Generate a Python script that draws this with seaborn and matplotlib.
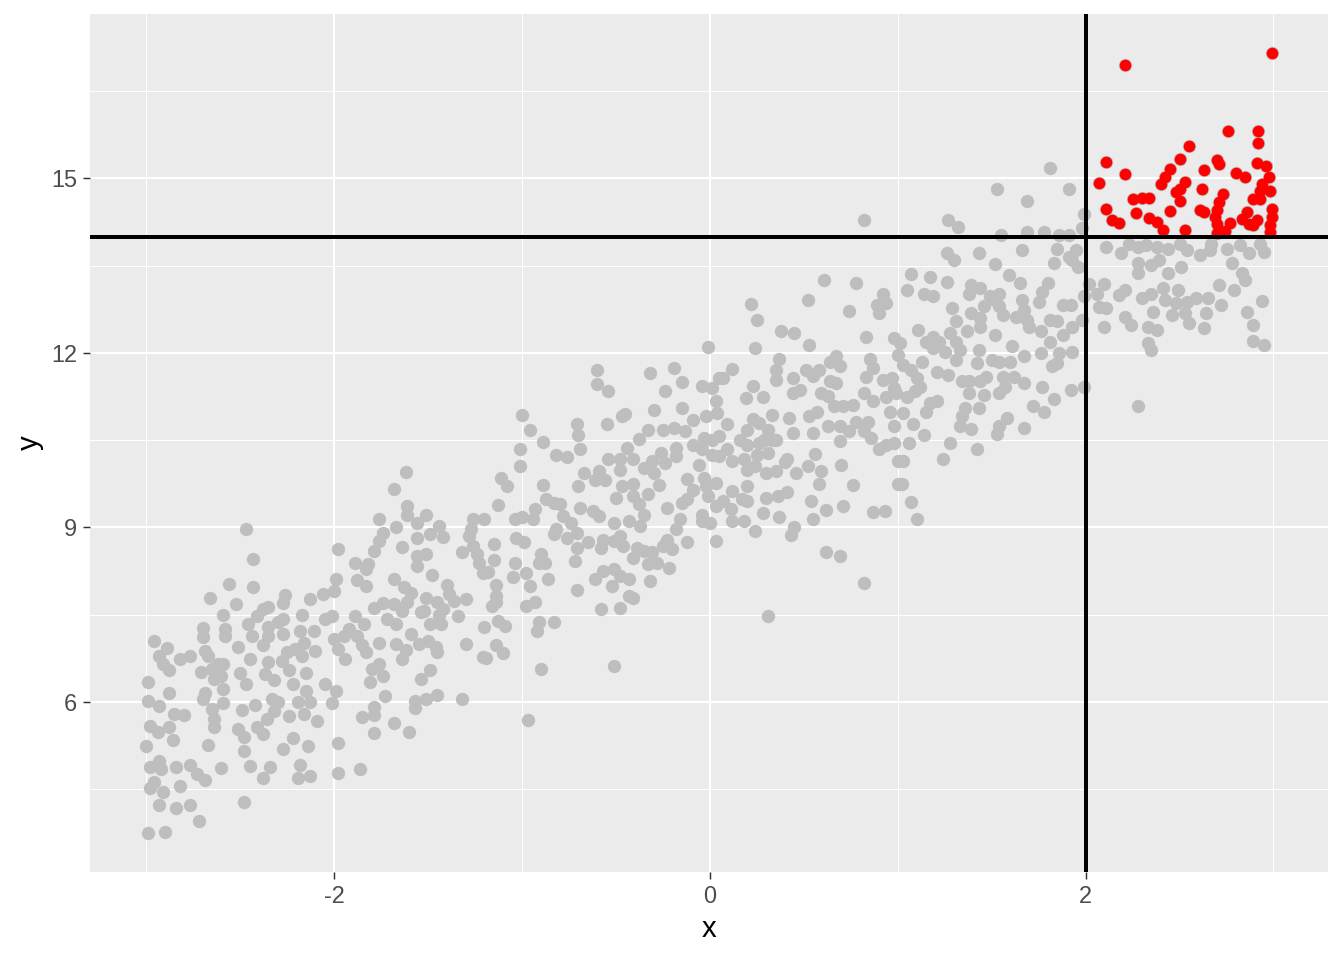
import pandas as pd
import matplotlib
matplotlib.use("Agg")
import matplotlib.pyplot as plt
import seaborn as sns

# points, grouped by region (left to right)
band1 = [(-2.47,8.98),(-2.43,8.45),(-2.56,8.02),(-2.43,7.97),(-2.66,7.78),(-2.52,7.69),(-2.59,7.50),(-2.26,7.83),(-2.13,7.76),(-2.06,7.85),
         (-2.00,7.91),(-1.99,8.12),(-1.98,8.63),(-2.27,7.70),(-2.38,7.59),(-2.35,7.63),(-2.41,7.48),(-2.46,7.34),(-2.44,7.14),(-2.35,7.28),
         (-2.30,7.37),(-2.27,7.42),(-2.27,7.17),(-2.38,6.97),(-2.35,7.14),(-2.17,7.50),(-2.18,7.22),(-2.11,7.21),(-2.16,7.02),(-2.10,6.88),
         (-2.21,6.91),(-2.25,6.85),(-2.28,6.71),(-2.35,6.68),(-2.17,6.79),(-2.00,7.08),(-2.01,7.48),(-2.05,7.42),(-2.51,6.95),(-2.45,6.74),
         (-2.58,7.25),(-2.58,7.14),(-2.70,7.27),(-2.70,7.12),(-2.96,7.04),(-2.89,6.92),(-2.93,6.79),(-2.91,6.65),(-2.88,6.54),(-2.82,6.74),
         (-2.77,6.79),(-2.69,6.88),(-2.67,6.79),(-2.71,6.52),(-2.65,6.57),(-2.62,6.65),(-2.59,6.65),(-2.64,6.39),(-2.60,6.45),(-2.59,6.22),
         (-2.50,6.50),(-2.47,6.31),(-2.37,6.48),(-2.32,6.37),(-2.24,6.54),(-2.22,6.31),(-2.15,6.49),(-2.05,6.31),(-1.99,6.19),(-2.99,6.34),
         (-2.88,6.15),(-2.99,6.02),(-2.93,5.93),(-2.69,6.16),(-2.70,6.05),(-2.59,5.98),(-2.65,5.88),(-2.64,5.71),(-2.64,5.57),(-2.85,5.79),
         (-2.80,5.78),(-2.49,5.86),(-2.42,5.95),(-2.33,6.05),(-2.30,5.99),(-2.19,5.99),(-2.15,6.18),(-2.13,5.99),(-2.01,5.98),(-2.36,5.71),
         (-2.32,5.85),(-2.24,5.75),(-2.16,5.79),(-2.09,5.67),(-2.98,5.59),(-2.88,5.57),(-2.94,5.48),(-2.86,5.34),(-3.00,5.24),(-2.67,5.25),
         (-2.51,5.54),(-2.48,5.39),(-2.41,5.56),(-2.38,5.45),(-2.48,5.16),(-2.27,5.19),(-2.22,5.37),(-2.14,5.24),(-1.98,5.30),(-2.98,4.88),
         (-2.93,4.98),(-2.92,4.85),(-2.84,4.88),(-2.77,4.91),(-2.73,4.76),(-2.69,4.65),(-2.60,4.86),(-2.45,4.90),(-2.34,4.88),(-2.38,4.69),
         (-2.18,4.92),(-2.19,4.69),(-2.13,4.73),(-1.98,4.77),(-2.96,4.62),(-2.98,4.52),(-2.91,4.45),(-2.82,4.56),(-2.93,4.22),(-2.84,4.18),
         (-2.77,4.23),(-2.72,3.95),(-2.48,4.27),(-2.99,3.75),(-2.90,3.77)]

band2 = [(-1.01,10.34),(-1.01,10.06),(-1.62,9.96),(-1.68,9.66),(-1.11,9.85),(-1.08,9.71),(-1.13,9.39),(-1.61,9.37),(-1.61,9.21),(-1.51,9.21),
         (-1.76,9.15),(-1.67,9.01),(-1.56,9.07),(-1.44,9.03),(-1.49,8.89),(-1.42,8.84),(-1.74,8.90),(-1.76,8.77),(-1.79,8.59),(-1.64,8.67),
         (-1.56,8.81),(-1.56,8.50),(-1.51,8.54),(-1.56,8.34),(-1.26,9.15),(-1.20,9.14),(-1.27,8.97),(-1.28,8.85),(-1.26,8.68),(-1.24,8.54),
         (-1.23,8.39),(-1.21,8.22),(-1.18,8.23),(-1.15,8.72),(-1.15,8.44),(-1.32,8.57),(-1.04,9.14),(-1.00,9.17),(-1.03,8.82),(-0.99,8.74),
         (-1.04,8.39),(-1.05,8.14),(-0.98,8.21),(-0.96,7.99),(-1.14,8.01),(-1.14,7.82),(-1.14,7.71),(-1.16,7.65),(-0.98,7.65),(-1.89,8.38),
         (-1.82,8.37),(-1.83,8.28),(-1.88,8.10),(-1.83,7.99),(-1.68,8.12),(-1.48,8.18),(-1.40,8.01),(-1.63,7.97),(-1.59,7.88),(-1.61,7.71),
         (-1.51,7.79),(-1.45,7.72),(-1.39,7.85),(-1.36,7.74),(-1.42,7.59),(-1.44,7.49),(-1.30,7.77),(-1.34,7.47),(-1.49,7.34),(-1.43,7.34),
         (-1.54,7.54),(-1.52,7.56),(-1.79,7.61),(-1.74,7.70),(-1.68,7.68),(-1.64,7.57),(-1.72,7.42),(-1.67,7.34),(-1.89,7.48),(-1.92,7.25),
         (-1.84,7.34),(-1.95,7.14),(-1.88,7.14),(-1.85,6.97),(-1.83,6.85),(-1.98,6.91),(-1.94,6.73),(-1.76,7.02),(-1.67,6.99),(-1.62,6.90),
         (-1.59,7.17),(-1.64,6.74),(-1.55,6.99),(-1.50,7.05),(-1.46,6.94),(-1.45,6.85),(-1.30,6.99),(-1.20,7.28),(-1.13,7.39),(-1.09,7.31),
         (-1.14,6.97),(-1.10,6.84),(-1.21,6.77),(-1.19,6.75),(-1.80,6.57),(-1.76,6.65),(-1.74,6.45),(-1.81,6.34),(-1.54,6.39),(-1.49,6.55),
         (-1.73,6.10),(-1.79,5.92),(-1.85,5.74),(-1.79,5.77),(-1.57,6.02),(-1.57,5.89),(-1.51,6.05),(-1.45,6.12),(-1.32,6.05),(-1.68,5.63),
         (-1.79,5.47),(-1.60,5.48),(-0.97,5.68),(-1.86,4.85)]

band3 = [(-0.60,11.70),(-0.60,11.47),(-0.54,11.34),(-0.32,11.66),(-0.19,11.74),(-0.15,11.50),(-0.24,11.34),(-0.04,11.43),(0.01,11.39),(0.05,11.57),
         (0.03,11.17),(0.04,10.96),(-0.30,11.02),(-0.15,11.05),(-0.45,10.95),(-0.47,10.91),(-0.55,10.78),(-0.71,10.77),(-0.70,10.59),(-1.00,10.94),
         (-0.96,10.68),(-0.89,10.47),(-0.69,10.34),(-0.82,10.25),(-0.76,10.21),(-0.38,10.52),(-0.33,10.68),(-0.25,10.68),(-0.19,10.71),(-0.13,10.65),
         (-0.09,10.85),(-0.02,10.91),(-0.03,10.54),(0.01,10.51),(-0.09,10.42),(-0.04,10.34),(0.01,10.25),(0.05,10.22),(-0.18,10.37),(-0.18,10.22),
         (-0.24,10.11),(-0.26,10.28),(-0.31,10.14),(-0.30,9.94),(-0.35,10.02),(-0.41,10.17),(-0.44,10.37),(-0.48,10.17),(-0.54,10.17),(-0.48,9.99),
         (-0.06,10.08),(-0.03,9.85),(-0.02,9.71),(-0.01,9.54),(-0.12,9.83),(-0.09,9.65),(-0.12,9.48),(-0.15,9.42),(0.03,9.77),(0.03,9.37),
         (-0.04,9.22),(-0.04,9.11),(0.00,9.08),(0.03,8.77),(-0.27,9.72),(-0.33,9.57),(-0.23,9.34),(-0.67,9.93),(-0.59,9.97),(-0.56,9.81),
         (-0.61,9.81),(-0.70,9.71),(-0.89,9.72),(-0.47,9.71),(-0.41,9.74),(-0.41,9.54),(-0.50,9.50),(-0.38,9.41),(-0.35,9.22),(-0.37,9.02),
         (-0.43,9.11),(-0.51,9.08),(-0.69,9.34),(-0.62,9.28),(-0.59,9.19),(-0.80,9.41),(-0.78,9.19),(-0.74,9.08),(-0.83,9.42),(-0.87,9.48),
         (-0.93,9.31),(-0.94,9.14),(-0.82,8.97),(-0.83,8.88),(-0.76,8.82),(-0.71,8.91),(-0.71,8.65),(-0.65,8.75),(-0.72,8.42),(-0.58,8.65),
         (-0.57,8.79),(-0.51,8.77),(-0.48,8.85),(-0.46,8.68),(-0.39,8.65),(-0.41,8.48),(-0.35,8.59),(-0.31,8.57),(-0.33,8.37),(-0.28,8.39),
         (-0.22,8.31),(-0.25,8.68),(-0.23,8.79),(-0.18,8.97),(-0.16,9.14),(-0.12,8.74),(-0.20,8.62),(-0.90,8.54),(-0.88,8.39),(-0.91,8.39),
         (-0.86,8.11),(-0.57,8.25),(-0.51,8.28),(-0.48,8.17),(-0.43,8.11),(-0.52,7.99),(-0.61,8.11),(-0.71,7.93),(-0.32,8.07),(-0.43,7.82),
         (-0.41,7.79),(-0.48,7.62),(-0.58,7.59),(-0.93,7.71),(-0.91,7.38),(-0.83,7.38),(-0.92,7.22),(-0.90,6.56),(-0.51,6.61)]

band4 = [(0.61,13.26),(0.78,13.21),(0.92,13.02),(0.89,12.82),(0.94,12.85),(0.90,12.69),(0.74,12.72),(0.52,12.91),(0.22,12.84),(0.25,12.57),
         (0.38,12.38),(0.45,12.34),(0.53,12.14),(0.83,12.27),(0.98,12.25),(1.00,11.97),(-0.01,12.10),(0.24,12.08),(0.37,11.89),(0.67,11.95),
         (0.64,11.85),(0.69,11.78),(0.85,11.89),(0.87,11.74),(0.83,11.58),(0.92,11.54),(0.97,11.57),(0.35,11.71),(0.35,11.54),(0.44,11.57),
         (0.51,11.70),(0.58,11.71),(0.55,11.60),(0.64,11.52),(0.67,11.48),(0.12,11.72),(0.07,11.57),(0.23,11.43),(0.19,11.22),(0.28,11.24),
         (0.44,11.31),(0.48,11.37),(0.59,11.31),(0.63,11.26),(0.66,11.08),(0.71,11.08),(0.76,11.11),(0.82,11.31),(0.87,11.17),(0.94,11.25),
         (0.98,11.39),(0.96,10.99),(0.09,10.78),(0.33,10.94),(0.42,10.88),(0.53,10.91),(0.57,10.99),(0.63,10.75),(0.69,10.75),(0.78,10.82),
         (0.84,10.82),(0.74,10.65),(0.82,10.65),(0.86,10.54),(0.98,10.75),(0.23,10.86),(0.20,10.68),(0.26,10.79),(0.31,10.68),(0.35,10.50),
         (0.16,10.51),(0.20,10.42),(0.26,10.45),(0.29,10.51),(0.05,10.57),(0.09,10.34),(0.12,10.14),(0.18,10.17),(0.25,10.25),(0.31,10.28),
         (0.33,10.51),(0.44,10.62),(0.55,10.62),(0.69,10.48),(0.90,10.34),(0.94,10.42),(0.98,10.45),(1.00,10.14),(0.56,10.27),(0.41,10.17),
         (0.40,10.12),(0.20,9.99),(0.24,10.05),(0.30,9.94),(0.35,9.97),(0.46,9.93),(0.52,10.05),(0.59,9.97),(0.58,9.74),(0.70,10.07),
         (0.76,9.72),(1.00,9.75),(0.20,9.71),(0.12,9.62),(0.30,9.51),(0.36,9.54),(0.41,9.61),(0.17,9.48),(0.20,9.45),(0.07,9.45),
         (0.11,9.32),(0.12,9.11),(0.18,9.11),(0.28,9.24),(0.37,9.18),(0.54,9.46),(0.62,9.30),(0.55,9.14),(0.71,9.37),(0.87,9.26),
         (0.93,9.29),(0.24,8.94),(0.45,9.01),(0.43,8.87),(0.62,8.58),(0.69,8.50),(0.82,8.04),(0.31,7.48),(0.82,14.28)]

band5 = [(1.81,15.18),(1.53,14.82),(1.69,14.61),(1.91,14.82),(1.27,14.29),(1.32,14.17),(1.99,14.39),(1.98,14.14),(1.55,14.02),(1.69,14.08),
         (1.78,14.08),(1.86,14.02),(1.91,14.02),(1.26,13.71),(1.30,13.59),(1.43,13.71),(1.66,13.77),(1.52,13.53),(1.85,13.79),(1.83,13.54),
         (1.91,13.65),(1.95,13.77),(1.96,13.48),(1.93,13.59),(1.07,13.35),(1.17,13.31),(1.26,13.22),(1.05,13.08),(1.14,13.02),(1.19,12.97),
         (1.39,13.17),(1.44,13.11),(1.38,13.02),(1.49,12.97),(1.52,12.91),(1.54,13.02),(1.59,13.34),(1.65,13.20),(1.80,13.20),(1.77,13.05),
         (1.75,12.88),(1.66,12.91),(1.67,12.74),(1.88,12.82),(1.92,12.82),(1.99,12.97),(1.29,12.77),(1.39,12.68),(1.44,12.60),(1.46,12.80),
         (1.54,12.80),(1.56,12.65),(1.63,12.62),(1.69,12.57),(1.70,12.45),(1.76,12.37),(1.81,12.57),(1.85,12.54),(1.81,12.19),(1.88,12.31),
         (1.93,12.45),(1.98,12.57),(1.31,12.54),(1.37,12.37),(1.44,12.45),(1.52,12.31),(1.11,12.39),(1.01,12.17),(1.19,12.28),(1.15,12.19),
         (1.22,12.19),(1.28,12.34),(1.31,12.19),(1.33,12.05),(1.25,12.02),(1.19,12.08),(1.43,12.05),(1.61,12.11),(1.67,11.94),(1.76,12.00),
         (1.86,12.00),(1.93,12.02),(1.82,11.77),(1.85,11.82),(1.13,11.85),(1.21,11.68),(1.27,11.62),(1.31,11.88),(1.42,11.82),(1.50,11.88),
         (1.54,11.85),(1.60,11.85),(1.34,11.51),(1.38,11.51),(1.44,11.51),(1.47,11.59),(1.56,11.59),(1.62,11.59),(1.67,11.49),(1.57,11.42),
         (1.54,11.31),(1.03,11.79),(1.07,11.71),(1.10,11.57),(1.12,11.42),(1.09,11.34),(0.99,11.31),(1.05,11.25),(1.38,11.31),(1.46,11.28),
         (1.77,11.42),(1.92,11.37),(1.99,11.42),(1.17,11.14),(1.21,11.17),(1.15,10.99),(1.36,11.05),(1.43,11.05),(1.34,10.91),(1.33,10.74),
         (1.39,10.69),(1.58,10.88),(1.54,10.74),(1.53,10.60),(1.67,10.71),(1.72,11.08),(1.78,10.99),(1.83,11.21),(1.03,10.97),(1.08,10.77),
         (1.14,10.59),(1.06,10.45),(1.28,10.45),(1.42,10.34),(1.24,10.18),(1.03,10.14),(1.02,9.75),(1.07,9.44),(1.10,9.14)]

band6 = [(2.11,13.82),(2.19,13.71),(2.23,13.88),(2.28,13.82),(2.32,13.85),(2.38,13.82),(2.44,13.79),(2.50,13.88),(2.54,13.77),(2.61,13.68),
         (2.66,13.77),(2.67,13.88),(2.75,13.79),(2.82,13.85),(2.87,13.71),(2.93,13.88),(2.95,13.74),(2.28,13.54),(2.35,13.51),(2.39,13.59),
         (2.28,13.37),(2.44,13.37),(2.51,13.47),(2.78,13.54),(2.83,13.37),(2.85,13.25),(2.02,13.19),(2.10,13.19),(2.06,13.02),(2.18,12.99),
         (2.21,13.08),(2.30,12.94),(2.35,13.02),(2.41,13.11),(2.49,13.08),(2.42,12.91),(2.48,12.85),(2.54,12.88),(2.59,12.94),(2.65,12.94),
         (2.71,13.17),(2.79,13.08),(2.94,12.90),(2.07,12.79),(2.11,12.77),(2.36,12.71),(2.46,12.65),(2.53,12.68),(2.64,12.68),(2.55,12.51),
         (2.63,12.42),(2.72,12.82),(2.86,12.71),(2.21,12.62),(2.24,12.48),(2.10,12.45),(2.33,12.45),(2.38,12.39),(2.33,12.17),(2.35,12.05),
         (2.89,12.48),(2.89,12.20),(2.95,12.14),(2.28,11.09)]

# corner group (x > 2 and y > 14)
corner = [(2.21,16.95),(2.99,17.15),(2.76,15.82),(2.92,15.81),(2.92,15.61),(2.55,15.55),(2.11,15.28),(2.50,15.33),(2.45,15.16),(2.70,15.31),
          (2.71,15.24),(2.63,15.15),(2.21,15.07),(2.07,14.92),(2.42,15.02),(2.40,14.91),(2.53,14.94),(2.50,14.82),(2.48,14.77),(2.62,14.82),
          (2.80,15.09),(2.85,15.02),(2.91,15.27),(2.96,15.22),(2.975,15.02),(2.94,14.91),(2.93,14.79),(2.98,14.78),(2.25,14.64),(2.30,14.67),
          (2.34,14.67),(2.50,14.61),(2.73,14.74),(2.71,14.59),(2.70,14.45),(2.11,14.47),(2.27,14.40),(2.45,14.44),(2.61,14.46),(2.63,14.42),
          (2.89,14.65),(2.93,14.65),(2.99,14.48),(2.99,14.34),(2.14,14.29),(2.18,14.23),(2.34,14.32),(2.38,14.25),(2.41,14.11),(2.53,14.11),
          (2.69,14.34),(2.70,14.22),(2.70,14.06),(2.74,14.09),(2.77,14.23),(2.83,14.31),(2.86,14.42),(2.87,14.22),(2.91,14.28),(2.89,14.20),
          (2.98,14.20),(2.98,14.08)]

x_cut = 2
y_cut = 14
x_ticks = [-2, 0, 2]
y_ticks = [6, 9, 12, 15]

df = pd.DataFrame(band1 + band2 + band3 + band4 + band5 + band6 + corner, columns=["x", "y"])
df["hi"] = (df["x"] > x_cut) & (df["y"] > y_cut)

sns.set_theme(style="darkgrid", rc={
    "axes.facecolor": "#EBEBEB",
    "grid.color": "white",
    "axes.edgecolor": "#EBEBEB",
    "axes.unicode_minus": False,
})
plt.rcParams["font.family"] = ["Liberation Sans", "DejaVu Sans"]

fig, ax = plt.subplots(figsize=(7, 5), dpi=192)
fig.subplots_adjust(left=0.067, right=0.988, top=0.985, bottom=0.092)

sns.scatterplot(data=df, x="x", y="y", color="#BEBEBE", s=25, linewidth=0, ax=ax, zorder=2)
sns.scatterplot(data=df[df["hi"]], x="x", y="y", color="#FF0000", s=19, linewidth=0, ax=ax, zorder=3)
ax.axhline(y_cut, color="black", lw=1.5, zorder=4)
ax.axvline(x_cut, color="black", lw=1.5, zorder=4)

# ggplot-style 5% expansion
xr = df["x"].max() - df["x"].min()
yr = df["y"].max() - df["y"].min()
ax.set_xlim(df["x"].min() - 0.05 * xr, df["x"].max() + 0.05 * xr)
ax.set_ylim(df["y"].min() - 0.05 * yr, df["y"].max() + 0.05 * yr)

ax.set_xticks(x_ticks)
ax.set_yticks(y_ticks)
ax.set_xticks([t + 1 for t in [-4] + x_ticks], minor=True)
ax.set_yticks([t - 1.5 for t in y_ticks + [18]], minor=True)
ax.grid(which="major", color="white", lw=0.8)
ax.grid(which="minor", color="white", lw=0.4)
ax.tick_params(which="major", length=2.75, width=0.55, color="#333333", labelcolor="#4D4D4D",
               labelsize=8.8, bottom=True, left=True, pad=2.2)
ax.tick_params(which="minor", length=0)
for s in ax.spines.values():
    s.set_visible(False)

ax.set_xlabel("x", fontsize=11, color="black", labelpad=2.75)
ax.set_ylabel("y", fontsize=11, color="black", labelpad=2.75)

fig.savefig("out.png", dpi=192)
